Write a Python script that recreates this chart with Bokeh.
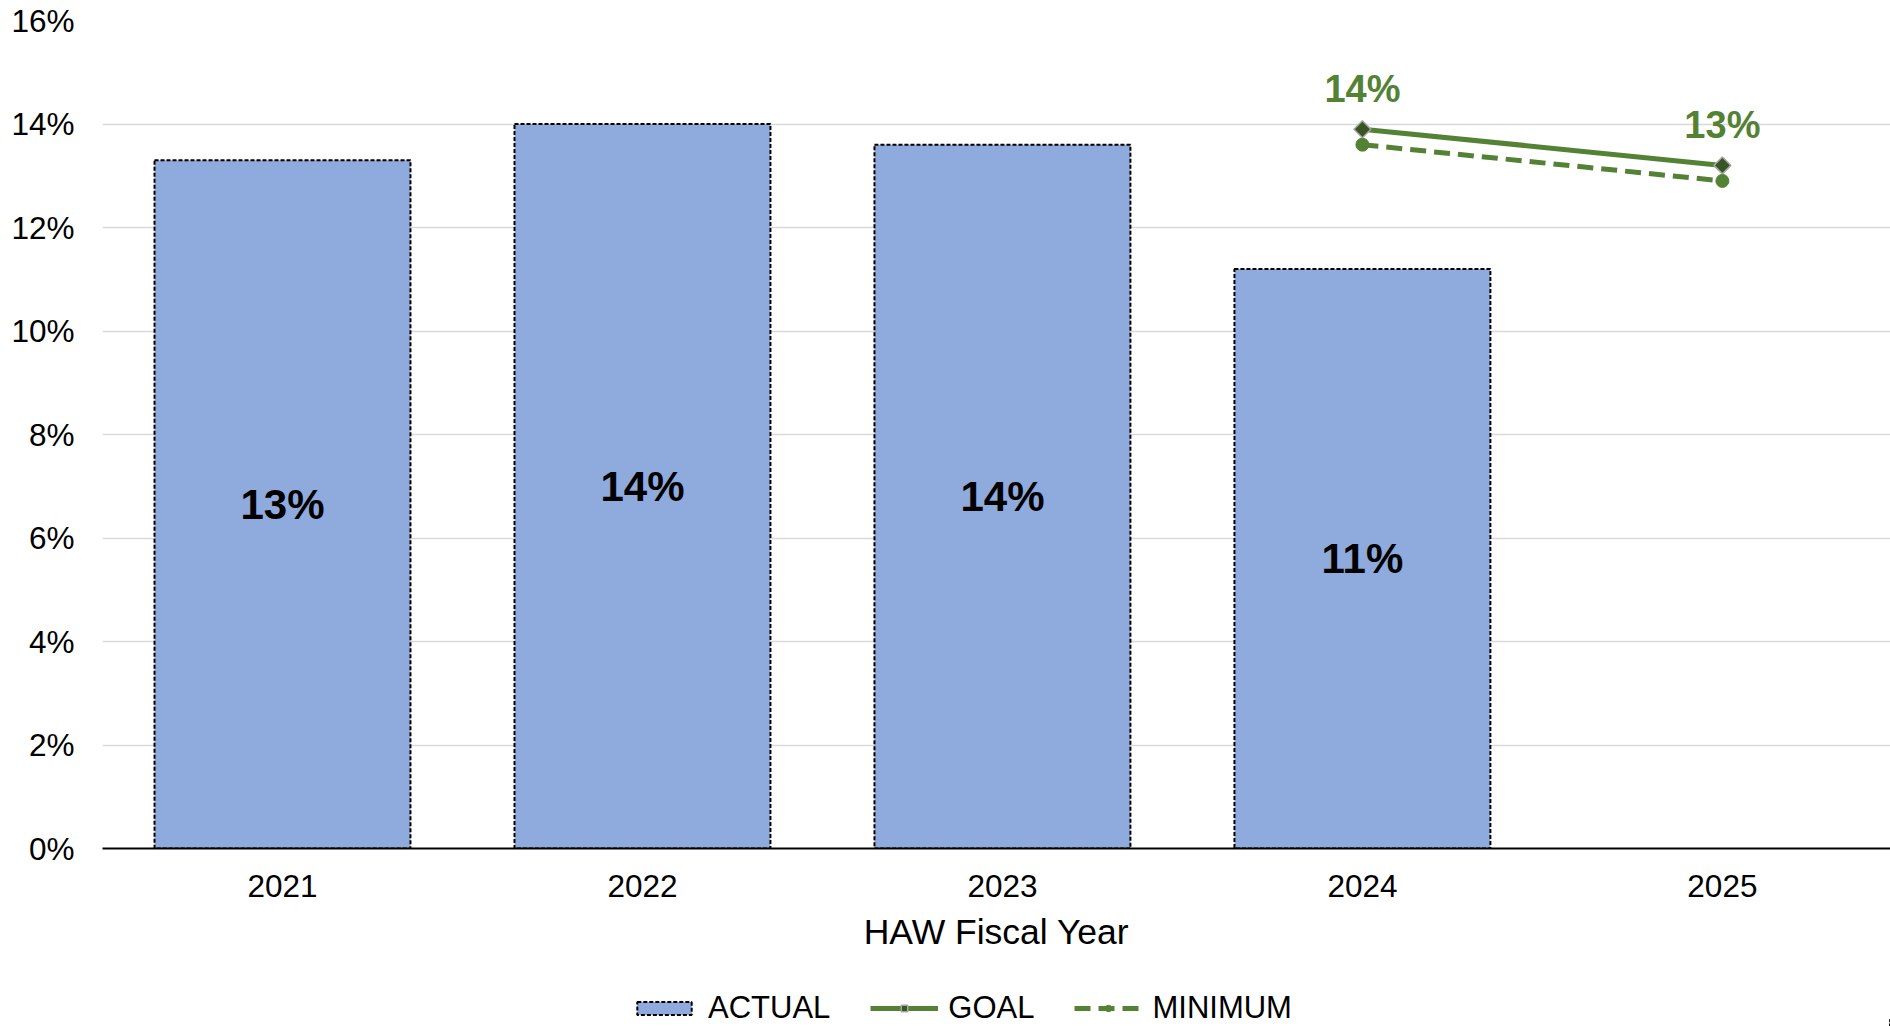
import math
from bokeh.plotting import figure
from bokeh.layouts import column
from bokeh.models import (ColumnDataSource, Range1d, FixedTicker, NumeralTickFormatter,
                          Legend, LegendItem)
from bokeh.core.properties import value
from bokeh.embed import file_html
from bokeh.resources import INLINE

# ---- data ----
years = [2021, 2022, 2023, 2024, 2025]
actual_years = [2021, 2022, 2023, 2024]
actual = [0.133, 0.140, 0.136, 0.112]
target_years = [2024, 2025]
goal = [0.139, 0.132]
minimum = [0.136, 0.129]
y_ticks = [0.0, 0.02, 0.04, 0.06, 0.08, 0.10, 0.12, 0.14, 0.16]
series_names = ["ACTUAL", "GOAL", "MINIMUM"]

FONT = "Liberation Sans"
GREEN = "#548235"
DARK_GREEN = "#375623"
BAR = "#8faadc"

BAR_STYLE = dict(fill_color=BAR, line_color="black", line_width=2, line_dash="4 2")
GOAL_LINE = dict(line_color=GREEN, line_width=5)
GOAL_MARK = dict(marker="square", size=12, angle=math.pi / 4, fill_color=DARK_GREEN,
                 line_color="#a6a6a6", line_width=1.5)
MIN_LINE = dict(line_color=GREEN, line_width=5, line_dash="16 8")
MIN_MARK = dict(marker="circle", size=13, fill_color=GREEN, line_color=GREEN)

p = figure(width=1890, height=975, output_backend="svg", toolbar_location=None,
           x_range=Range1d(2020.5, 2025.467), y_range=Range1d(0, 0.16),
           min_border_left=102, min_border_right=0, min_border_top=20,
           min_border_bottom=127)
p.outline_line_color = None

bar_src = ColumnDataSource(dict(x=actual_years, top=actual, mid=[v / 2 for v in actual],
                                lab=[f"{round(v * 100)}%" for v in actual]))
p.vbar(x="x", top="top", width=0.711, source=bar_src, **BAR_STYLE)
p.text(x="x", y="mid", text="lab", source=bar_src, text_align="center",
       text_baseline="middle", text_font=value(FONT), text_font_style="bold",
       text_font_size="42px", text_color="black")

t_src = ColumnDataSource(dict(x=target_years, goal=goal, minimum=minimum,
                              lab=[f"{round(v * 100)}%" for v in goal]))
p.line(x="x", y="goal", source=t_src, **GOAL_LINE)
p.scatter(x="x", y="goal", source=t_src, **GOAL_MARK)
p.line(x="x", y="minimum", source=t_src, **MIN_LINE)
p.scatter(x="x", y="minimum", source=t_src, **MIN_MARK)
p.text(x="x", y="goal", text="lab", source=t_src, text_align="center",
       text_baseline="alphabetic", y_offset=-40, text_font=value(FONT),
       text_font_style="bold", text_font_size="38px", text_color=GREEN)

# axes
p.yaxis.ticker = FixedTicker(ticks=y_ticks)
p.yaxis.formatter = NumeralTickFormatter(format="0%")
p.yaxis.axis_line_color = None
p.yaxis.major_tick_line_color = None
p.yaxis.minor_tick_line_color = None
p.yaxis.major_label_standoff = 22
p.yaxis.major_label_text_font = FONT
p.yaxis.major_label_text_font_size = "31.5px"
p.yaxis.major_label_text_color = "black"

p.xaxis.ticker = FixedTicker(ticks=years)
p.xaxis.axis_line_color = "black"
p.xaxis.axis_line_width = 2
p.xaxis.major_tick_line_color = None
p.xaxis.minor_tick_line_color = None
p.xaxis.major_label_standoff = 20
p.xaxis.major_label_text_font = FONT
p.xaxis.major_label_text_font_size = "31.5px"
p.xaxis.major_label_text_color = "black"
p.xaxis.axis_label = "HAW Fiscal Year"
p.xaxis.axis_label_standoff = 12
p.xaxis.axis_label_text_font = FONT
p.xaxis.axis_label_text_font_size = "35.5px"
p.xaxis.axis_label_text_font_style = "normal"
p.xaxis.axis_label_text_color = "black"

p.xgrid.grid_line_color = None
p.ygrid.grid_line_color = "#d9d9d9"
p.ygrid.grid_line_width = 1.5

# ---- legend strip: same sources and styles, plotted out of its (tiny) view ----
lg = figure(width=1890, height=51, output_backend="svg", toolbar_location=None,
            x_axis_location=None, y_axis_location=None,
            x_range=Range1d(0, 1), y_range=Range1d(0, 1),
            min_border_left=0, min_border_right=0, min_border_top=0, min_border_bottom=0)
lg.grid.visible = False
lg.outline_line_color = None
r_bar = lg.vbar(x="x", top="top", width=0.711, source=bar_src, **BAR_STYLE)
r_gl = lg.line(x="x", y="goal", source=t_src, **GOAL_LINE)
r_gm = lg.scatter(x="x", y="goal", source=t_src, **GOAL_MARK)
r_ml = lg.line(x="x", y="minimum", source=t_src, **MIN_LINE)
r_mm = lg.scatter(x="x", y="minimum", source=t_src, **MIN_MARK)
legend = Legend(items=[LegendItem(label=series_names[0], renderers=[r_bar]),
                       LegendItem(label=series_names[1], renderers=[r_gl, r_gm]),
                       LegendItem(label=series_names[2], renderers=[r_ml, r_mm])],
                orientation="horizontal", location=(528, 0),
                glyph_width=68, glyph_height=16, label_standoff=10, spacing=40,
                padding=0, margin=0, border_line_color=None,
                background_fill_alpha=0,
                label_text_font=FONT,
                label_text_font_size="31px", label_text_color="black")
lg.add_layout(legend, "center")

layout = column(p, lg, spacing=0)
open("out.html", "w").write(file_html(layout, INLINE))
